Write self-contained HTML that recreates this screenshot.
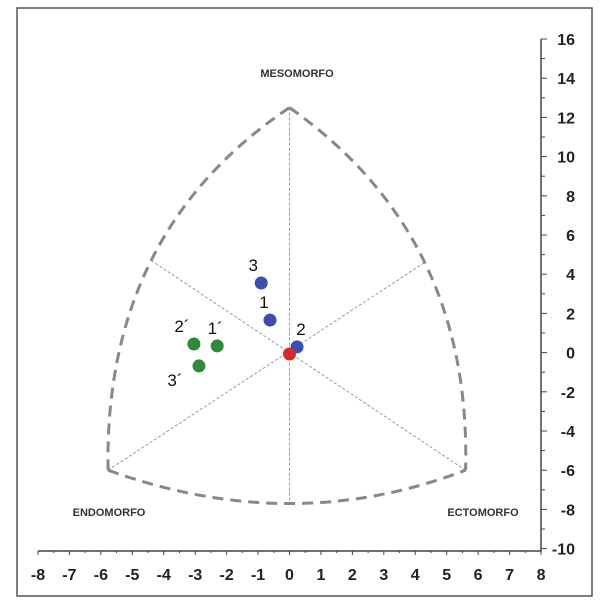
<!DOCTYPE html>
<html><head><meta charset="utf-8"><style>
html,body{margin:0;padding:0;background:#fff;}
svg{display:block;font-family:"Liberation Sans",sans-serif;}
</style></head><body>
<svg id="c" width="600" height="606" viewBox="0 0 600 606">
<rect x="17" y="8" width="575" height="588" fill="#fff" stroke="#555" stroke-width="1.5"/>
<g id="g"></g>
</svg>
<script>
const xTicks=[-8,-7,-6,-5,-4,-3,-2,-1,0,1,2,3,4,5,6,7,8];
const yTicks=[16,14,12,10,8,6,4,2,0,-2,-4,-6,-8,-10];
const pointLabels=["1","2","3","1´","2´","3´","center"];
const pointX=[-0.62,0.24,-0.9,-2.3,-3.04,-2.88,0.0];
const pointY=[1.66,0.29,3.55,0.34,0.44,-0.68,-0.07];
const pointColors=["#3a4fb0","#3a4fb0","#3a4fb0","#2e8b3a","#2e8b3a","#2e8b3a","#d42a2a"];
const vertexX=[0,-5.77,5.6];
const vertexY=[12.5,-6.0,-6.0];
const arcMidX=[-4.4,4.3,0];
const arcMidY=[4.7,4.6,-7.7];

function sx(v){return 289.5+v*31.44;}
function sy(v){return 352.6-v*19.6;}
const NS="http://www.w3.org/2000/svg";
const g=document.getElementById('g');
function mk(t,a){const e=document.createElementNS(NS,t);for(const k in a)e.setAttribute(k,a[k]);g.appendChild(e);return e;}

// axes
let e=mk('line',{x1:sx(-8),y1:551,x2:sx(8),y2:551,stroke:'#444','stroke-width':1.5});


e=mk('line',{x1:541,y1:sy(16),x2:541,y2:551,stroke:'#444','stroke-width':1.5});


for(let v=-8;v<=8;v+=0.5){
  const t=mk('line',{x1:sx(v),y1:551,x2:sx(v),y2:Number.isInteger(v)?555:553,stroke:'#444','stroke-width':1});
  
  
}
for(let v=-10;v<=16;v+=1){
  const t=mk('line',{x1:541,y1:sy(v),x2:v%2===0?547:545,y2:sy(v),stroke:'#444','stroke-width':1});
  
  
}
xTicks.forEach(v=>{
  const t=mk('text',{x:sx(v),y:580,'text-anchor':'middle','font-size':16,'font-weight':'bold',fill:'#222'});
  t.textContent=v;
  
  
});
yTicks.forEach(v=>{
  const t=mk('text',{x:575,y:sy(v)+6,'text-anchor':'end','font-size':16,'font-weight':'bold',fill:'#222'});
  t.textContent=v;
  
  
});

// thin lines from vertices to opposite arc mids
const opp=[2,1,0];
for(let i=0;i<3;i++){
  const j=[2,1,0][i];
  // vertex 0 (top) -> bottom arc (2), vertex1 (left) -> right arc (1), vertex2 (right) -> left arc (0)
  const l=mk('line',{x1:sx(vertexX[i]),y1:sy(vertexY[i]),x2:sx(arcMidX[j]),y2:sy(arcMidY[j]),stroke:'#999','stroke-width':1,'stroke-dasharray':'3,2'});
  
  
}
// arcs: left(top->left vertex), right(top->right), bottom(left->right)
const arcs=[[0,1,0],[0,2,1],[1,2,2]];
arcs.forEach(a=>{
  const Ax=sx(vertexX[a[0]]),Ay=sy(vertexY[a[0]]),Bx=sx(vertexX[a[1]]),By=sy(vertexY[a[1]]);
  const Mx=sx(arcMidX[a[2]]),My=sy(arcMidY[a[2]]);
  const Cx=2*Mx-(Ax+Bx)/2,Cy=2*My-(Ay+By)/2;
  const p=mk('path',{d:`M${Ax},${Ay} Q${Cx},${Cy} ${Bx},${By}`,fill:'none',stroke:'#888','stroke-width':3,'stroke-dasharray':'11,7'});
  
  
});

const names=[["MESOMORFO",297,77],["ENDOMORFO",109,516],["ECTOMORFO",483,516]];
names.forEach(n=>{
  const t=mk('text',{x:n[1],y:n[2],'text-anchor':'middle','font-size':11,'font-weight':'bold',fill:'#333'});
  t.textContent=n[0];
  
  
});

// points
const labOff=[[-6,-12],[4,-12],[-8,-12],[-2,-12],[-12,-12],[-24,20]];
pointX.forEach((v,i)=>{
  const c=mk('circle',{cx:sx(v),cy:sy(pointY[i]),r:6.5,fill:pointColors[i]});
  
  
  if(i<6){
    const t=mk('text',{x:sx(v)+labOff[i][0],y:sy(pointY[i])+labOff[i][1],'text-anchor':'middle','font-size':17,fill:'#111'});
    t.textContent=pointLabels[i];
    
    
  }
});
</script>
</body></html>
